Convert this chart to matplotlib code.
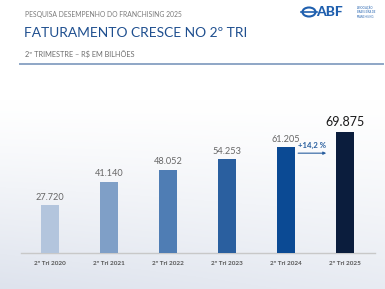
import matplotlib
matplotlib.use("Agg")
import matplotlib.pyplot as plt
import numpy as np
from matplotlib.patches import Ellipse

categories = ["2º Tri 2020", "2º Tri 2021", "2º Tri 2022", "2º Tri 2023", "2º Tri 2024", "2º Tri 2025"]
values = [27.720, 41.140, 48.052, 54.253, 61.205, 69.875]
value_labels = ["27.720", "41.140", "48.052", "54.253", "61.205", "69.875"]
growth_label = "+14,2 %"
colors = ["#b3c5dd", "#7f9fc7", "#4f7db4", "#2a5f9f", "#0b4a94", "#0b1d3d"]

W, H = 385, 289
fig = plt.figure(figsize=(W / 100, H / 100), dpi=100)
plt.rcParams['font.family'] = ['Lato', 'DejaVu Sans']

# background gradient
bg = fig.add_axes([0, 0, 1, 1], zorder=-10)
yy = np.linspace(0, 1, 200)[:, None]
xx = np.linspace(0, 1, 200)[None, :]
t = np.clip((yy - 0.35) / 0.65, 0, 1) ** 1.2 * (1 - 0.3 * xx)
top = np.array([1.0, 1.0, 1.0])
bot = np.array([0.87, 0.89, 0.93])
img = top[None, None, :] * (1 - t[..., None]) + bot[None, None, :] * t[..., None]
bg.imshow(img, aspect='auto', extent=[0, 1, 0, 1], origin='upper')
bg.set_axis_off()

def fx(px):
    return px / W

def fy(py):
    return 1 - py / H

# header texts
fig.text(fx(25), fy(14), "PESQUISA DESEMPENHO DO FRANCHISING 2025", fontsize=4.9,
         color="#7a7a7a", va="center", ha="left")
fig.text(fx(24), fy(33), "FATURAMENTO CRESCE NO 2º TRI", fontsize=9.9,
         color="#1f4f8f", va="center", ha="left")
fig.text(fx(25), fy(54), "2º TRIMESTRE – R$ EM BILHÕES", fontsize=5.3,
         color="#6e6e6e", va="center", ha="left")
fig.add_artist(plt.Line2D([fx(20), fx(383)], [fy(64), fy(64)], color="#8ea6c6", lw=1.4))

# logo
fig.add_artist(Ellipse((fx(309), fy(12)), fx(13), 9 / H, fill=False, ec="#1f5fae", lw=1.5))
fig.add_artist(plt.Line2D([fx(301), fx(317)], [fy(12), fy(12)], color="#1f5fae", lw=1.2))
fig.text(fx(316), fy(12), "ABF", fontsize=10, fontweight="black", color="#1f5fae",
         va="center", ha="left")
fig.text(fx(357), fy(12), "ASSOCIAÇÃO\nBRASILEIRA DE\nFRANCHISING", fontsize=1.9,
         color="#1f5fae", va="center", ha="left", linespacing=1.1)

# bar chart
base_px = 253
top_px = 100
ax = fig.add_axes([fx(21), fy(base_px), fx(375) - fx(21), (base_px - top_px) / H])
ax.patch.set_alpha(0)
x = np.arange(len(categories))
ax.bar(x, values, width=0.31, color=colors, zorder=3)
ax.set_xlim(-0.49, 5.51)
ax.set_ylim(0, (base_px - top_px) / 1.73)
for s in ["top", "right", "left"]:
    ax.spines[s].set_visible(False)
ax.spines["bottom"].set_color("#c8c8c8")
ax.spines["bottom"].set_linewidth(1.0)
ax.set_yticks([])
ax.set_xticks(x)
ax.set_xticklabels(categories, fontsize=4.6, fontweight="bold", color="#555555")
ax.tick_params(axis="x", length=0, pad=6)

for i, (v, lab) in enumerate(zip(values, value_labels)):
    if i == len(values) - 1:
        ax.text(i, v + 2.6, lab, ha="center", va="bottom", fontsize=9, color="#1a1a1a")
    else:
        ax.text(i, v + 2.0, lab, ha="center", va="bottom", fontsize=6.6, color="#666666")

# growth arrow
ax.annotate("", xy=(4.73, values[4] - 3.5), xytext=(4.16, values[4] - 3.5),
            arrowprops=dict(arrowstyle="-|>", color="#2a5f9f", lw=0.8, mutation_scale=4),
            zorder=4)
ax.text(4.45, values[4] - 1.0, growth_label, ha="center", va="bottom", fontsize=5.6,
        fontweight="bold", color="#2a5f9f")

fig.savefig("out.png", dpi=100)
